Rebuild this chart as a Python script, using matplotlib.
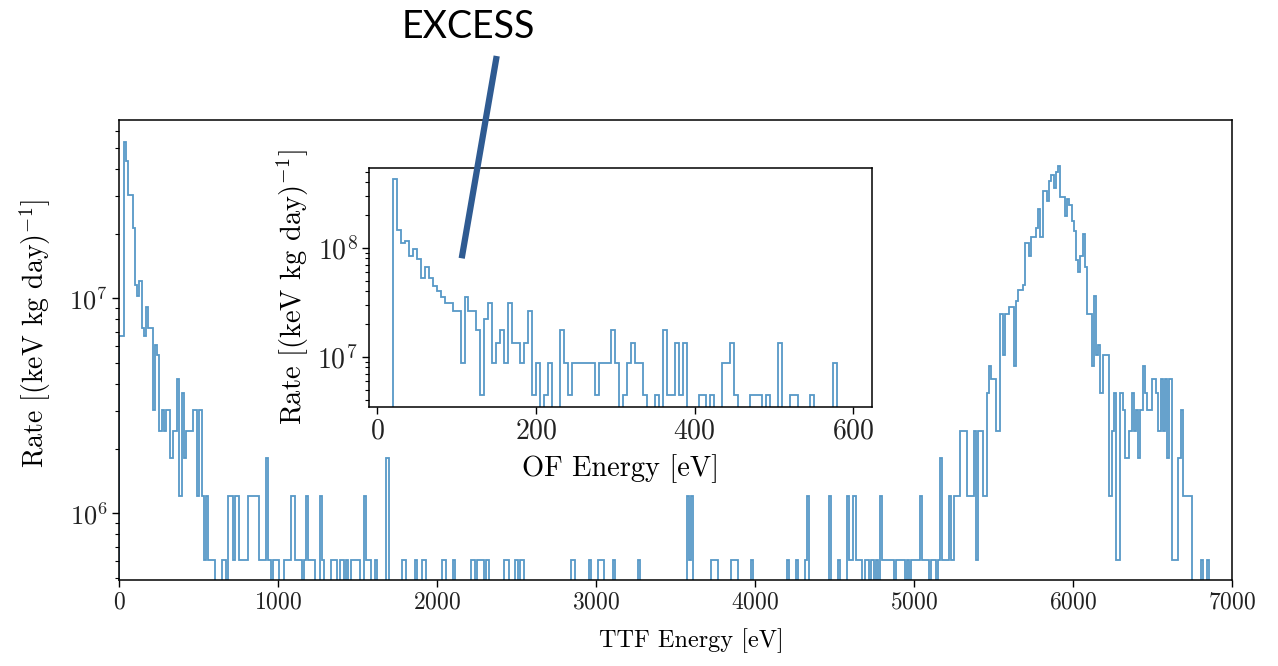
import numpy as np
import matplotlib.pyplot as plt
from matplotlib.lines import Line2D

plt.rcParams['font.family'] = 'serif'
plt.rcParams['font.serif'] = ['cmr10']
plt.rcParams['mathtext.fontset'] = 'cm'
plt.rcParams['axes.formatter.use_mathtext'] = True
plt.rcParams['axes.linewidth'] = 1.1
plt.rcParams['text.color'] = '#222222'
plt.rcParams['xtick.labelcolor'] = '#222222'
plt.rcParams['ytick.labelcolor'] = '#222222'

# TTF spectrum: counts per 14 eV bin, 0 - 7000 eV
ttf_edges = np.arange(0, 7001, 14)
ttf_counts = [
    11, 11, 88, 72, 50, 50, 35, 19, 17, 20, 12, 11, 15, 12, 12, 5, 10, 9, 4, 5,
    4, 5, 5, 3, 4, 4, 7, 2, 6, 3, 4, 4, 4, 5, 5, 2, 5, 2, 1, 2,
    1, 1, 1, 0, 0, 0, 1, 1, 0, 2, 2, 1, 2, 2, 1, 1, 1, 1, 2, 2,
    2, 2, 2, 1, 1, 1, 3, 1, 0, 1, 1, 1, 0, 0, 1, 1, 1, 2, 2, 1,
    1, 1, 0, 1, 2, 1, 1, 1, 0, 0, 2, 1, 0, 0, 0, 1, 1, 1, 0, 1,
    1, 0, 1, 0, 1, 1, 1, 1, 0, 0, 2, 1, 1, 0, 0, 1, 0, 0, 0, 0,
    3, 0, 0, 0, 0, 0, 0, 1, 1, 0, 0, 0, 0, 1, 0, 0, 1, 1, 0, 0,
    0, 0, 0, 0, 0, 1, 1, 0, 0, 0, 1, 0, 0, 0, 0, 0, 0, 0, 1, 1,
    0, 1, 1, 1, 0, 1, 0, 0, 0, 0, 0, 0, 0, 1, 1, 0, 0, 0, 1, 0,
    1, 1, 0, 0, 0, 0, 0, 0, 0, 0, 0, 0, 0, 0, 0, 0, 0, 0, 0, 0,
    0, 0, 0, 1, 1, 0, 0, 0, 0, 0, 0, 1, 0, 0, 0, 1, 1, 1, 0, 0,
    0, 0, 1, 0, 0, 0, 0, 0, 0, 0, 0, 0, 0, 1, 0, 0, 0, 0, 0, 0,
    0, 0, 0, 0, 0, 0, 0, 0, 0, 0, 0, 0, 0, 0, 0, 2, 1, 2, 0, 0,
    0, 0, 0, 0, 0, 0, 1, 1, 1, 0, 0, 0, 0, 0, 0, 1, 1, 1, 0, 0,
    0, 0, 0, 0, 1, 0, 0, 0, 0, 0, 0, 0, 0, 0, 0, 0, 0, 0, 0, 0,
    1, 0, 0, 0, 1, 0, 0, 0, 1, 2, 0, 0, 0, 0, 0, 0, 0, 0, 0, 2,
    0, 0, 0, 1, 0, 0, 0, 2, 1, 1, 2, 1, 1, 1, 0, 1, 1, 0, 1, 0,
    1, 0, 2, 1, 1, 1, 1, 1, 0, 1, 1, 1, 1, 0, 1, 0, 1, 1, 1, 1,
    2, 1, 1, 1, 0, 1, 1, 0, 1, 3, 1, 1, 1, 2, 1, 2, 2, 2, 4, 4,
    4, 2, 2, 2, 4, 1, 4, 4, 2, 2, 6, 8, 7, 7, 4, 4, 14, 9, 14, 14,
    15, 15, 8, 16, 18, 18, 19, 30, 30, 26, 32, 32, 35, 43, 32, 52, 52, 47, 58, 62,
    54, 64, 68, 49, 49, 40, 48, 45, 38, 34, 25, 22, 26, 33, 23, 14, 14, 8, 17, 9,
    10, 6, 9, 9, 9, 2, 4, 6, 1, 1, 6, 5, 3, 3, 4, 6, 4, 5, 3, 5,
    8, 6, 5, 5, 7, 7, 6, 4, 7, 4, 7, 3, 7, 1, 1, 1, 3, 5, 2, 2,
    2, 2, 0, 0, 0, 0, 1, 0, 0, 1, 0, 0, 0, 0, 0, 0, 0, 0, 0, 0,
]
ttf_rate_per_count = 6.05e5

# OF spectrum (low energy): counts per 5 eV bin, 20 - 595 eV
of_edges = np.arange(20, 596, 5)
of_counts = [
    96, 33, 25, 26, 19, 22, 18, 12, 15, 12, 10, 9, 8, 7, 7, 6, 6, 2, 8, 6,
    6, 4, 1, 5, 7, 2, 3, 4, 2, 7, 3, 3, 2, 3, 6, 1, 2, 0, 1, 2,
    0, 0, 4, 2, 1, 2, 2, 2, 2, 2, 2, 1, 2, 2, 2, 4, 2, 0, 1, 2,
    3, 2, 2, 1, 0, 0, 1, 0, 4, 1, 1, 3, 1, 3, 0, 0, 0, 1, 1, 0,
    1, 0, 0, 2, 2, 3, 1, 0, 0, 0, 1, 1, 1, 0, 1, 0, 0, 3, 0, 0,
    1, 1, 0, 0, 0, 1, 0, 0, 0, 0, 0, 2, 0, 0, 0,
]
of_rate_per_count = 4.42e6

ttf_rate = np.array(ttf_counts) * ttf_rate_per_count
of_rate = np.array(of_counts) * of_rate_per_count

W, H = 1278, 666
fig = plt.figure(figsize=(W / 100, H / 100), dpi=100)


def px_box(left, top, right, bottom):
    return [left / W, 1 - bottom / H, (right - left) / W, (bottom - top) / H]


hist_style = dict(color='#1f77b4', alpha=0.75, lw=1.3)

# main spectrum
ax = fig.add_axes(px_box(119.3, 120, 1231.7, 580))
ax.stairs(ttf_rate, ttf_edges, **hist_style)
ax.set_yscale('log')
ax.set_xlim(0, 7000)
ax.set_ylim(4.9e5, 6.75e7)
ax.set_xticks(np.arange(0, 7001, 1000))
ax.set_xlabel('TTF Energy [eV]', fontsize=17.5)
ax.xaxis.set_label_coords(0.514, -0.105)
ax.set_ylabel(r'Rate [(keV kg day)$^{-1}$]', fontsize=20)
ax.yaxis.set_label_coords(-0.06, 0.535)
ax.tick_params(axis='x', labelsize=17)
ax.tick_params(axis='y', labelsize=19)
ax.tick_params(length=5, width=1)
ax.tick_params(which='minor', length=3, width=0.8)

# inset: low energy OF spectrum
axin = fig.add_axes(px_box(369.3, 168.3, 872.3, 406.7))
axin.stairs(of_rate, of_edges, **hist_style)
axin.set_yscale('log')
axin.set_xlim(-10, 624)
axin.set_ylim(3.48e6, 5.35e8)
axin.set_xticks([0, 200, 400, 600])
axin.set_xlabel('OF Energy [eV]', fontsize=20.5, labelpad=7)
axin.set_ylabel(r'Rate [(keV kg day)$^{-1}$]', fontsize=20.5)
axin.tick_params(labelsize=20, length=5, width=1)
axin.tick_params(which='minor', length=3, width=0.8)

# callout
fig.text(468 / W, 1 - 27 / H, 'EXCESS', ha='center', va='center',
         fontsize=27, family='Lato', color='black')
fig.add_artist(Line2D([496.7 / W, 461.7 / W], [1 - 56 / H, 1 - 258.3 / H],
                      color='#2f5b92', lw=4.5, solid_capstyle='butt',
                      transform=fig.transFigure))

fig.savefig('out.png', dpi=100)
